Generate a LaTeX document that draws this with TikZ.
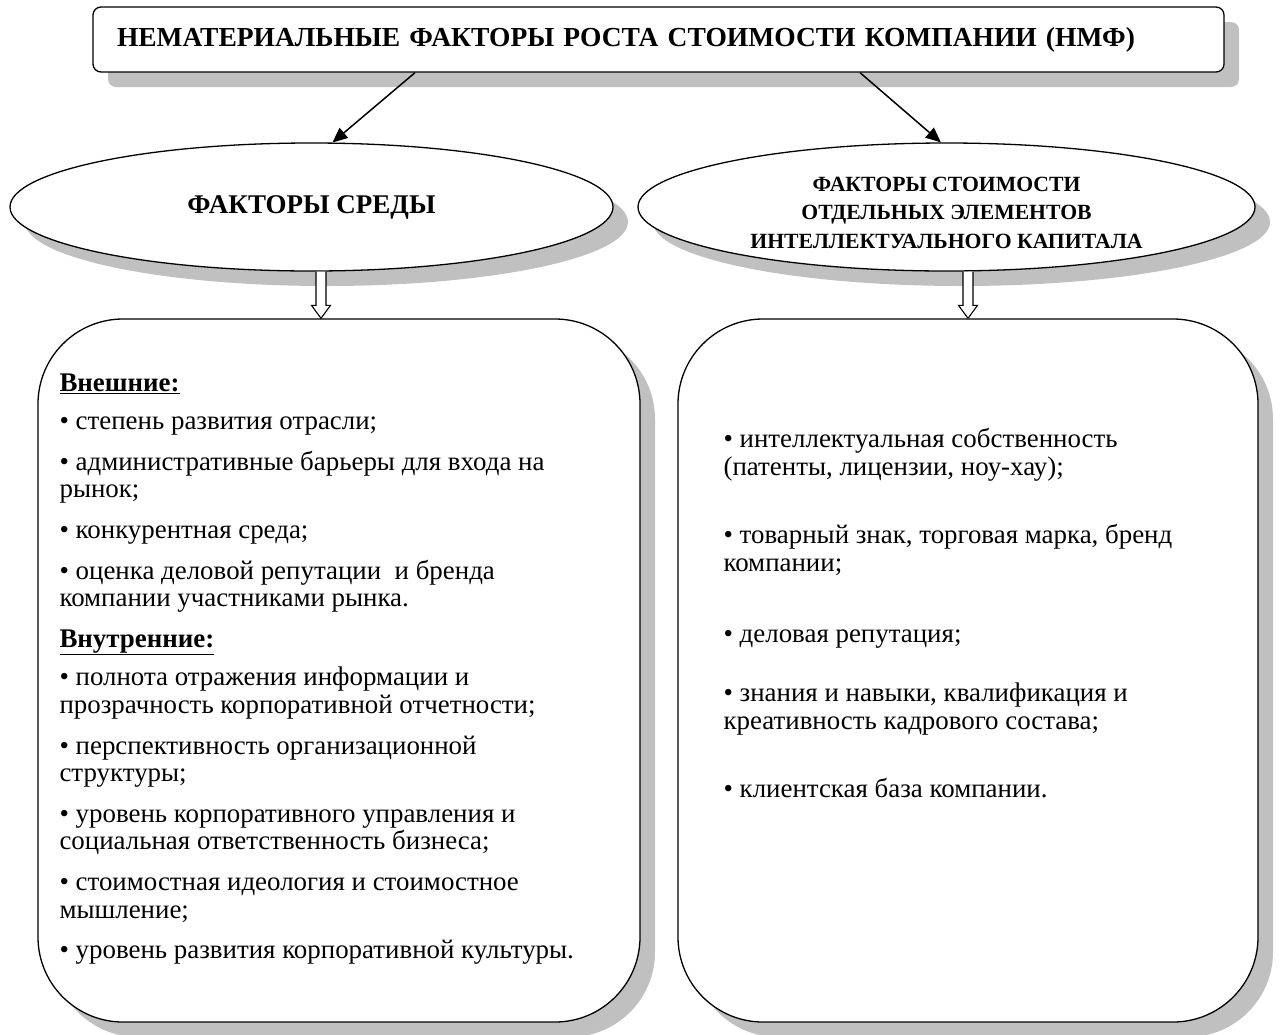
\documentclass[tikz,border=0pt]{standalone}
\usepackage{fontspec}
\setmainfont{Liberation Serif}[BoldFont={Liberation Serif Bold}]
\usetikzlibrary{arrows.meta,shapes.geometric,shadows,calc}
\definecolor{shadowgray}{RGB}{192,192,192}
\tikzset{
  shade/.style={drop shadow={shadow xshift=15pt,shadow yshift=-15pt,fill=shadowgray,opacity=1}},
  titlebox/.style={draw,line width=1.3pt,fill=white,rounded corners=8pt,shade,
    minimum height=65pt,text width=1083pt,inner xsep=24pt,align=left,
    font=\fontsize{27.5}{30}\selectfont\bfseries},
  oval/.style={ellipse,draw,line width=1.3pt,fill=white,shade,inner sep=0pt,
    minimum height=128pt,align=center},
  bigbox/.style={draw,line width=1.3pt,fill=white,rounded corners=85pt,shade,
    minimum height=703pt},
  listtext/.style={anchor=north west,inner sep=0pt,align=left,
    font=\fontsize{26.9}{27.6}\selectfont},
  arr/.style={line width=1.5pt,-{Triangle[length=15pt,width=13pt]}},
  hollow/.style={draw,fill=white,line width=1.1pt,
    to path={let \p1=(\tikztostart),\p2=(\tikztotarget) in
      (\x2-5pt,\y1) -- (\x2-5pt,\y2+13pt) -- (\x2-9.5pt,\y2+13pt) -- (\x2,\y2)
      -- (\x2+9.5pt,\y2+13pt) -- (\x2+5pt,\y2+13pt) -- (\x2+5pt,\y1)}}
}
\begin{document}
\begin{tikzpicture}[x=1pt,y=-1pt]
\useasboundingbox (0,0) rectangle (1281,1034);
% top
\node[titlebox] (nmf) at (658.5,39.5) {НЕМАТЕРИАЛЬНЫЕ ФАКТОРЫ РОСТА СТОИМОСТИ КОМПАНИИ (НМФ)};
% groups
\node[oval,minimum width=603pt,font=\fontsize{27}{30}\selectfont\bfseries] (env) at (311.5,207) {ФАКТОРЫ СРЕДЫ};
\node[oval,minimum width=617pt,font=\fontsize{21.7}{28.5}\selectfont\bfseries] (cap) at (946.5,207)
  {\rule{0pt}{26pt}ФАКТОРЫ СТОИМОСТИ\\ОТДЕЛЬНЫХ ЭЛЕМЕНТОВ\\ИНТЕЛЛЕКТУАЛЬНОГО КАПИТАЛА};
\node[bigbox,minimum width=602pt] (ext) at (339,670.5) {};
\node[bigbox,minimum width=580pt] (intl) at (968,670.5) {};
% arrows
\draw[arr] ([xshift=-243.5pt]nmf.south) -- (env.72);
\draw[arr] ([xshift=201.5pt]nmf.south) -- (cap.95);
\coordinate (hl) at ([xshift=-18pt]ext.north);
\draw[hollow] (env.south -| hl) to (hl);
\draw[hollow] (cap.south -| intl.north) to (intl.north);
% lists
\node[listtext] (extlist) at ([xshift=22pt,yshift=-55pt]ext.north west) {%
\underline{\textbf{Внешние:}}\\[11pt]
• степень развития отрасли;\\[13pt]
• административные барьеры для входа на\\
рынок;\\[13pt]
• конкурентная среда;\\[13pt]
• оценка деловой репутации\ \ и бренда\\
компании участниками рынка.\\[13pt]
\underline{\textbf{Внутренние:}}\\[11pt]
• полнота отражения информации и\\
прозрачность корпоративной отчетности;\\[13pt]
• перспективность организационной\\
структуры;\\[13pt]
• уровень корпоративного управления и\\
социальная ответственность бизнеса;\\[13pt]
• стоимостная идеология и стоимостное\\
мышление;\\[13pt]
• уровень развития корпоративной культуры.};
\node[listtext] (intlist) at ([xshift=46pt,yshift=-110pt]intl.north west) {%
• интеллектуальная собственность\\
(патенты, лицензии, ноу-хау);\\[40.6pt]
• товарный знак, торговая марка, бренд\\
компании;\\[43.6pt]
• деловая репутация;\\[31.6pt]
• знания и навыки, квалификация и\\
креативность кадрового состава;\\[40.6pt]
• клиентская база компании.};
\end{tikzpicture}
\end{document}
